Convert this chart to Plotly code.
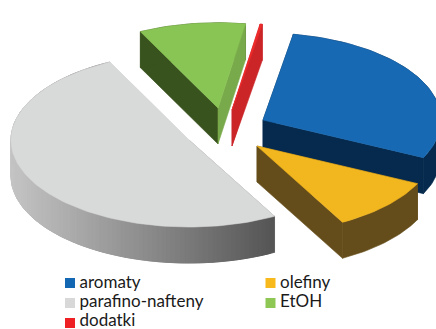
import math
import plotly.graph_objects as go

categories = ["aromaty", "olefiny", "parafino-nafteny", "EtOH", "dodatki"]
values = [29.4, 9.9, 50.64, 9.86, 0.2]
top_colors = ["#1869b3", "#f2b61e", "#d8d9d9", "#89c554", "#ee2a2a"]
side_colors = ["#052a4d", "#654d1b", "#8f8f8f", "#39531f", "#cb2528"]
end_colors = ["#052a4d", "#654d1b", "#d8d9d9", "#78a94a", "#cb2528"]
swatch_colors = ["#1468b3", "#f7b91b", "#d8d8d8", "#8ec753", "#ee2024"]

centers = [(263, 120), (257, 146), (189, 140), (218, 108), (232, 110)]
radius_scale = [1, 1, 1, 0.98, 1]
legend_pos = [(70, 283), (270.5, 283), (70, 303), (270.5, 303), (70, 323)]
legend_text_x = [79.5, 280, 79.5, 280, 79.5]
legend_text_y = [284, 284, 303, 303, 322]
draw_order = [2, 3, 4, 0, 1]
RX, RY, DEPTH, START = 178, 87, 36, 9.8

fig = go.Figure()


def pt(c, deg, k=1):
    t = math.radians(deg)
    return c[0] + k * RX * math.sin(t), c[1] - k * RY * math.cos(t)


def poly(points, color, name=None):
    xs, ys = zip(*points)
    fig.add_trace(go.Scatter(x=list(xs) + [xs[0]], y=list(ys) + [ys[0]], mode="lines",
                             fill="toself", fillcolor=color, line=dict(color=color, width=0.6),
                             hoverinfo="skip", showlegend=False, name=name))


def arc(c, a0, a1, k):
    n = max(2, int(abs(a1 - a0) / 1.5))
    return [pt(c, a0 + (a1 - a0) * i / n, k) for i in range(n + 1)]


def down(points):
    return [(x, y + DEPTH) for x, y in points]


def gray_at(x):
    s = min(1, max(0, (x - 12) / 261))
    v = int(round(196 + (84 - 196) * s))
    return f"rgb({v},{v},{v})"


spans = []
acc = START
for v in values:
    spans.append((acc, acc + v * 3.6))
    acc += v * 3.6

for i in draw_order:
    c, (a0, a1), k = centers[i], spans[i], radius_scale[i]
    ring = arc(c, a0, a1, k)
    p0, p1 = pt(c, a0, k), pt(c, a1, k)
    # near radial face, then outer rim, then far radial face
    poly([c, p0, (p0[0], p0[1] + DEPTH), (c[0], c[1] + DEPTH)], side_colors[i])
    poly(ring + down(ring)[::-1], side_colors[i])
    if i == 2:
        # shaded rim: overlapping strips, so no seams show
        for j in range(len(ring) - 2):
            p, q = ring[j], ring[j + 2]
            poly([p, q, (q[0], q[1] + DEPTH), (p[0], p[1] + DEPTH)], gray_at((p[0] + q[0]) / 2))
    poly([c, p1, (p1[0], p1[1] + DEPTH), (c[0], c[1] + DEPTH)], end_colors[i])
    # top face
    poly([c] + ring, top_colors[i], categories[i])

for name, col, (x, y), tx, ty in zip(categories, swatch_colors, legend_pos, legend_text_x, legend_text_y):
    fig.add_trace(go.Scatter(x=[x], y=[y], mode="markers",
                             marker=dict(symbol="square", size=10, color=col),
                             showlegend=False, hoverinfo="skip", name=name, cliponaxis=False))
    fig.add_trace(go.Scatter(x=[tx], y=[ty], mode="text", text=[name],
                             textposition="middle right",
                             textfont=dict(family="Lato", size=17, color="#1a1a1a"),
                             showlegend=False, hoverinfo="skip", name=name, cliponaxis=False))

fig.update_layout(width=436, height=329, margin=dict(l=0, r=0, t=0, b=0),
                  paper_bgcolor="white", plot_bgcolor="white", showlegend=False,
                  xaxis=dict(range=[0, 436], visible=False, fixedrange=True),
                  yaxis=dict(range=[329, 0], visible=False, fixedrange=True))
fig.write_html("out.html", config=dict(displayModeBar=False),
               post_script="document.body.style.margin='0';document.body.style.overflow='hidden';")
